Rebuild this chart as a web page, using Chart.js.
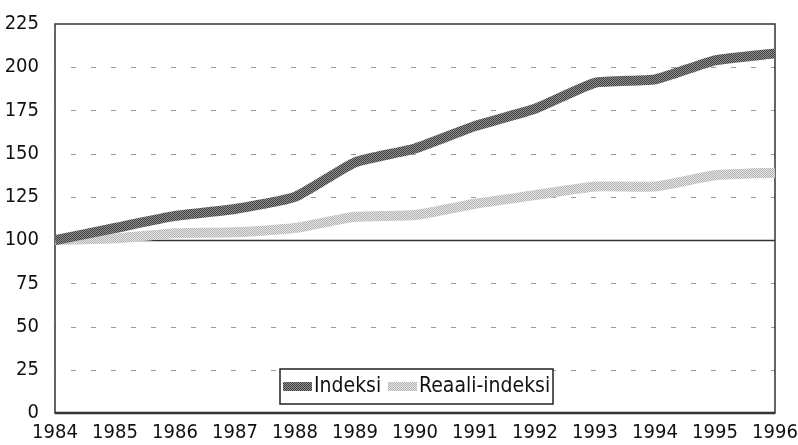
<!DOCTYPE html>
<html>
<head>
<meta charset="utf-8">
<script src="https://cdn.jsdelivr.net/npm/chart.js@4/dist/chart.umd.min.js"></script>
<style>
  body { margin: 0; background: #fff; }
  #wrap { width: 798px; height: 445px; position: relative; }
</style>
</head>
<body>
<div id="wrap"><canvas id="chart"></canvas></div>
<script>
// years on the x axis
const years = ['1984', '1985', '1986', '1987', '1988', '1989', '1990',
               '1991', '1992', '1993', '1994', '1995', '1996'];

// series values
const indeksi = [100, 107, 114, 118, 125, 145, 153, 166, 176, 191, 193, 204, 208];
const reaaliIndeksi = [100, 101, 104, 104.5, 107, 113.5, 114.5, 121, 126, 131, 131, 137.5, 139];

const yTicks = [0, 25, 50, 75, 100, 125, 150, 175, 200, 225];
const seriesLabels = ['Indeksi', 'Reaali-indeksi'];

const FONT = "'DejaVu Sans Condensed', 'Liberation Sans Narrow', sans-serif";

// halftone look for the thick lines
function makePattern(c1, c2) {
    const p = document.createElement('canvas');
    p.width = 2; p.height = 2;
    const g = p.getContext('2d');
    g.fillStyle = c1; g.fillRect(0, 0, 2, 2);
    g.fillStyle = c2; g.fillRect(0, 0, 1, 1); g.fillRect(1, 1, 1, 1);
    return g.createPattern(p, 'repeat');
}
const darkPat = makePattern('#909090', '#404040');
const lightPat = makePattern('#e4e4e4', '#b4b4b4');

// grid lines, frame and the 100 base line
const gridPlugin = {
    id: 'gridPlugin',
    beforeDatasetsDraw(chart) {
        const ctx = chart.ctx;
        const a = chart.chartArea;
        const y = chart.scales.y;
        ctx.save();
        for (const v of yTicks) {
            if (v === 0 || v === 225) continue;
            const py = Math.round(y.getPixelForValue(v)) + 0.5;
            ctx.beginPath();
            if (v === 100) {
                ctx.setLineDash([]);
                ctx.strokeStyle = '#333';
                ctx.lineWidth = 1.5;
            } else {
                ctx.setLineDash([5, 15]);
                ctx.lineDashOffset = -16;
                ctx.strokeStyle = '#999';
                ctx.lineWidth = 1;
            }
            ctx.moveTo(a.left, py);
            ctx.lineTo(a.right, py);
            ctx.stroke();
        }
        ctx.setLineDash([]);
        ctx.strokeStyle = '#333';
        ctx.lineWidth = 1.5;
        ctx.strokeRect(a.left, a.top, a.right - a.left, a.bottom - a.top);
        ctx.lineWidth = 2.5;
        ctx.beginPath();
        ctx.moveTo(a.left, a.bottom);
        ctx.lineTo(a.right, a.bottom);
        ctx.stroke();
        ctx.restore();
    }
};

// legend box drawn inside the plot area
const legendPlugin = {
    id: 'legendPlugin',
    afterDraw(chart) {
        const ctx = chart.ctx;
        ctx.save();
        ctx.fillStyle = '#fff';
        ctx.fillRect(280, 369, 273, 35);
        ctx.strokeStyle = '#222';
        ctx.lineWidth = 1.5;
        ctx.strokeRect(280, 369, 273, 35);
        const pats = [darkPat, lightPat];
        const xs = [283, 388];
        ctx.font = '21px ' + FONT;
        ctx.textBaseline = 'middle';
        seriesLabels.forEach((lab, i) => {
            ctx.fillStyle = pats[i];
            ctx.fillRect(xs[i], 382, 29, 9);
            ctx.fillStyle = '#111';
            ctx.fillText(lab, xs[i] + 31, 387);
        });
        ctx.restore();
    }
};

new Chart(document.getElementById('chart'), {
    type: 'line',
    data: {
        labels: years,
        datasets: [{
            label: seriesLabels[0],
            data: indeksi,
            borderColor: darkPat,
            borderWidth: 10,
            pointRadius: 0,
            tension: 0.15,
            fill: false
        }, {
            label: seriesLabels[1],
            data: reaaliIndeksi,
            borderColor: lightPat,
            borderWidth: 10,
            pointRadius: 0,
            tension: 0.15,
            fill: false
        }]
    },
    options: {
        responsive: true,
        maintainAspectRatio: false,
        animation: false,
        layout: { autoPadding: false, padding: { top: 24, right: 23, left: 0, bottom: 0 } },
        scales: {
            x: {
                offset: false,
                grid: { display: false, drawTicks: false },
                border: { display: false },
                ticks: {
                    color: '#111',
                    font: { family: FONT, size: 20 },
                    padding: 8,
                    maxRotation: 0,
                    autoSkip: false
                },
                afterFit(scale) {
                    scale.height = 32;
                    scale.paddingLeft = 0;
                    scale.paddingRight = 0;
                }
            },
            y: {
                min: 0,
                max: 225,
                grid: { display: false, drawTicks: false },
                border: { display: false },
                ticks: {
                    stepSize: 25,
                    color: '#111',
                    font: { family: FONT, size: 20 },
                    padding: 16
                },
                afterFit(scale) {
                    scale.width = 55;
                    scale.paddingTop = 0;
                    scale.paddingBottom = 0;
                }
            }
        },
        plugins: {
            legend: { display: false },
            tooltip: { enabled: false }
        }
    },
    plugins: [gridPlugin, legendPlugin]
});
</script>
</body>
</html>
